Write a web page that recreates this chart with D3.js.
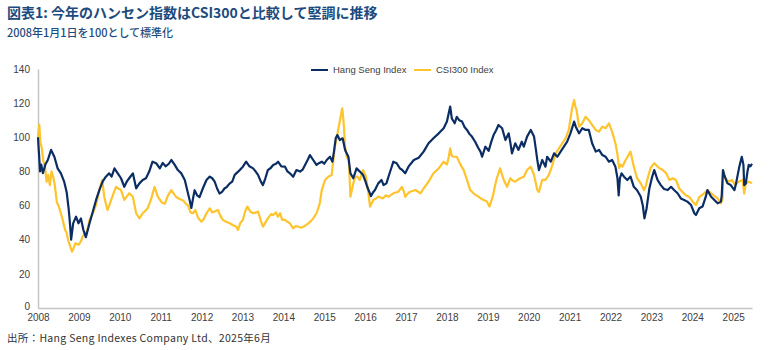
<!DOCTYPE html>
<html>
<head>
<meta charset="utf-8">
<script src="https://cdn.jsdelivr.net/npm/d3@7"></script>
<style>
  body { margin: 0; background: #fff; }
  svg text { font-family: "Liberation Sans", "Noto Sans CJK JP", sans-serif; }
  .cjk { font-family: "Noto Sans CJK JP", "Liberation Sans", sans-serif !important; }
</style>
</head>
<body>
<div id="chart"></div>
<script>
// Tick values / labels
const yearTicks = d3.range(2008, 2026);
const valueTicks = [0, 20, 40, 60, 80, 100, 120, 140];
const seriesNames = ["Hang Seng Index", "CSI300 Index"];

// Series: [decimal year, index (2008/1/1 = 100)]
const hangSeng = [
  [2008.00,100],[2008.02,92],[2008.05,80],[2008.08,84],[2008.12,79],[2008.18,84],[2008.24,86.7],
  [2008.32,92.6],[2008.40,88.6],[2008.48,81.8],[2008.56,78.9],[2008.64,74],[2008.70,68],[2008.75,58],
  [2008.78,50],[2008.81,40],[2008.86,49.6],[2008.93,53.5],[2008.99,49.6],[2009.05,52.5],[2009.11,45.7],
  [2009.17,41.5],[2009.22,46],[2009.26,49.6],[2009.34,56.4],[2009.42,63.3],[2009.50,69.1],[2009.58,74],
  [2009.66,76.9],[2009.74,78.9],[2009.80,77],[2009.87,81.8],[2009.95,78.9],[2010.03,76],[2010.11,71],
  [2010.17,74],[2010.23,76],[2010.32,78.9],[2010.40,70.1],[2010.48,73],[2010.56,75],[2010.64,76],
  [2010.72,79.9],[2010.80,85.7],[2010.89,84.8],[2010.98,81.8],[2011.05,85],[2011.12,83],[2011.20,84.5],
  [2011.26,86.7],[2011.34,84],[2011.42,80.8],[2011.50,79],[2011.59,75],[2011.66,68],[2011.71,63],
  [2011.75,58.6],[2011.79,64],[2011.83,69],[2011.89,66],[2011.95,65],[2012.03,70],[2012.12,75],
  [2012.20,77],[2012.26,76],[2012.32,74],[2012.38,70],[2012.44,67],[2012.50,68],[2012.56,70],
  [2012.62,71],[2012.69,73],[2012.75,74],[2012.81,78],[2012.90,80],[2013.01,82.8],[2013.09,85.7],
  [2013.17,83],[2013.26,81.8],[2013.32,80],[2013.38,78],[2013.45,74],[2013.50,72],[2013.56,76],
  [2013.62,80.8],[2013.69,82],[2013.75,83.8],[2013.82,84.5],[2013.87,85.7],[2013.95,83],[2014.04,82.8],
  [2014.10,80],[2014.16,78.9],[2014.24,76.9],[2014.32,80.8],[2014.41,79.9],[2014.47,81],[2014.53,83.8],
  [2014.60,87],[2014.65,89.6],[2014.73,86.7],[2014.81,83.8],[2014.88,85],[2014.94,85.7],[2015.00,84.5],
  [2015.06,86.7],[2015.14,88.6],[2015.20,85.7],[2015.24,92],[2015.28,99.4],[2015.32,101.3],[2015.38,98.4],
  [2015.45,99.4],[2015.51,92.6],[2015.56,90],[2015.59,88.6],[2015.64,78.9],[2015.71,76],[2015.79,81.8],
  [2015.87,79.9],[2015.95,77.9],[2016.01,74],[2016.05,71],[2016.10,68.1],[2016.14,65.5],[2016.20,68],
  [2016.24,69.1],[2016.32,73],[2016.40,75],[2016.45,72],[2016.52,73],[2016.57,76.9],[2016.64,82],
  [2016.69,85.7],[2016.77,84.8],[2016.85,81.8],[2016.90,81],[2016.98,78.9],[2017.06,82.8],[2017.19,86.7],
  [2017.31,88],[2017.43,91.6],[2017.55,96.5],[2017.67,99.4],[2017.80,102.3],[2017.92,105.3],[2018.00,109.2],
  [2018.08,118],[2018.12,111],[2018.19,108.2],[2018.24,112],[2018.30,110],[2018.37,109.2],[2018.43,106],
  [2018.49,104.3],[2018.55,102],[2018.61,100.4],[2018.69,97.4],[2018.76,94],[2018.82,91.6],[2018.86,88.6],
  [2018.94,94.5],[2019.02,92],[2019.08,97],[2019.14,101.3],[2019.20,104],[2019.26,107.2],[2019.35,105.3],
  [2019.43,98.4],[2019.51,102.3],[2019.55,97],[2019.59,90.6],[2019.67,96.5],[2019.75,92.6],[2019.83,97.4],
  [2019.88,94.5],[2019.96,100.4],[2020.05,104.3],[2020.13,100.4],[2020.18,92],[2020.21,86.7],[2020.25,80.8],
  [2020.33,86.7],[2020.41,82.8],[2020.45,88.6],[2020.54,85.7],[2020.62,90.6],[2020.70,88.6],[2020.78,91.6],
  [2020.86,94.5],[2020.94,97.4],[2021.02,102.3],[2021.11,109.2],[2021.15,106.2],[2021.23,102.3],[2021.31,105.3],
  [2021.39,104.3],[2021.47,104.3],[2021.55,96.5],[2021.64,91.6],[2021.72,92.6],[2021.80,89.6],[2021.88,88.6],
  [2021.96,85.7],[2022.04,86.7],[2022.12,82.8],[2022.17,76],[2022.20,66],[2022.23,76],[2022.27,78.9],
  [2022.33,76.9],[2022.41,75],[2022.49,77],[2022.57,71],[2022.65,69],[2022.74,65.2],[2022.79,60],
  [2022.83,52.5],[2022.88,58],[2022.95,70],[2023.02,77],[2023.07,80.8],[2023.15,75],[2023.23,72],
  [2023.31,69.7],[2023.40,69.1],[2023.48,71],[2023.56,69],[2023.64,67.2],[2023.72,64.2],[2023.80,63.3],
  [2023.88,62.3],[2023.97,60.3],[2024.05,55.5],[2024.09,54.5],[2024.17,58.4],[2024.25,59.4],[2024.33,65.2],
  [2024.37,69.1],[2024.46,65.2],[2024.54,63.3],[2024.62,61.3],[2024.70,62.3],[2024.72,66],[2024.75,80.8],
  [2024.78,78],[2024.86,73],[2024.94,72],[2025.03,69],[2025.07,73],[2025.15,82.8],[2025.21,88.6],
  [2025.25,84],[2025.27,72],[2025.31,73],[2025.35,80],[2025.38,83.8],[2025.42,83],[2025.46,84.5]
];

const csi300 = [
  [2008.00,100],[2008.03,107.5],[2008.06,97],[2008.09,94],[2008.13,86],[2008.17,83],[2008.21,74],
  [2008.25,78],[2008.29,72],[2008.33,80],[2008.37,77],[2008.41,72],[2008.46,62],[2008.50,60],
  [2008.54,57],[2008.60,52],[2008.66,46],[2008.70,44],[2008.74,39.5],[2008.79,36],[2008.83,33],
  [2008.87,35],[2008.91,37.9],[2008.99,37],[2009.05,39],[2009.09,41.8],[2009.15,43.7],[2009.20,45],
  [2009.26,51.6],[2009.34,55.5],[2009.42,60.3],[2009.50,69.1],[2009.57,75],[2009.62,65.2],[2009.67,60],
  [2009.70,57.4],[2009.79,63.3],[2009.86,68],[2009.91,71],[2009.96,70],[2010.03,69.1],[2010.11,63.3],
  [2010.23,67.2],[2010.32,65.2],[2010.40,55.5],[2010.48,52.5],[2010.56,55.5],[2010.63,57],[2010.68,58.4],
  [2010.76,63.3],[2010.85,71],[2010.93,65.2],[2011.02,62],[2011.10,61],[2011.18,66],[2011.26,69],
  [2011.32,67],[2011.38,65],[2011.45,64],[2011.55,63],[2011.62,61],[2011.67,60],[2011.73,56],
  [2011.79,55.5],[2011.85,57.4],[2011.91,53],[2011.99,50.6],[2012.05,52],[2012.12,55.5],[2012.20,58.4],
  [2012.26,56],[2012.32,56.5],[2012.40,57.4],[2012.46,54],[2012.52,51.6],[2012.60,50.5],[2012.69,49.6],
  [2012.77,48.5],[2012.85,47.6],[2012.89,45.7],[2012.95,50],[2013.01,51.6],[2013.07,57],[2013.12,59.4],
  [2013.19,56.5],[2013.26,55.5],[2013.33,56],[2013.38,56.5],[2013.45,51],[2013.50,47.6],[2013.56,50],
  [2013.62,52.5],[2013.70,55],[2013.75,54.5],[2013.82,56],[2013.87,53.5],[2013.92,55.5],[2013.97,51.6],
  [2014.04,51.6],[2014.10,50.5],[2014.16,49.6],[2014.24,46.7],[2014.30,48],[2014.37,47.6],[2014.43,47],
  [2014.49,47.6],[2014.55,48.5],[2014.61,49.6],[2014.68,51],[2014.73,52.5],[2014.81,55.5],[2014.86,59],
  [2014.89,61.3],[2014.94,69.1],[2015.02,75],[2015.10,76.9],[2015.18,77.9],[2015.22,86],[2015.26,94.5],
  [2015.34,104.3],[2015.40,112],[2015.44,117],[2015.47,110],[2015.51,94.5],[2015.55,88.6],[2015.60,86.7],
  [2015.64,65.2],[2015.71,73],[2015.76,76.9],[2015.81,76.9],[2015.87,75],[2015.95,80.8],[2016.02,76.9],
  [2016.08,67.2],[2016.12,59.4],[2016.20,63.3],[2016.26,64],[2016.32,65.2],[2016.44,64.2],[2016.50,66],
  [2016.57,65.2],[2016.69,67.2],[2016.81,68.1],[2016.90,71],[2016.95,68],[2016.98,65.2],[2017.04,67],
  [2017.10,68.1],[2017.23,69.1],[2017.35,67.2],[2017.43,70],[2017.55,74],[2017.67,78.9],[2017.80,81.8],
  [2017.92,85.7],[2018.00,84],[2018.04,88],[2018.08,93.5],[2018.12,89],[2018.16,88.6],[2018.24,88.6],
  [2018.33,84],[2018.41,80.8],[2018.49,75],[2018.57,69.1],[2018.65,67.2],[2018.72,66],[2018.77,65.2],
  [2018.84,64],[2018.90,63.3],[2018.98,62.3],[2019.04,59.4],[2019.12,65.2],[2019.18,72],[2019.22,76],
  [2019.30,81.8],[2019.35,78],[2019.39,75],[2019.47,71],[2019.55,76],[2019.62,74.5],[2019.67,74],
  [2019.73,75],[2019.79,76],[2019.88,76.9],[2019.96,80.8],[2020.05,82.8],[2020.13,77.9],[2020.21,69.1],
  [2020.25,68],[2020.33,75],[2020.41,75],[2020.49,77.9],[2020.54,81],[2020.58,84],[2020.66,90.6],
  [2020.74,93.5],[2020.82,96.5],[2020.90,99.4],[2020.98,104.3],[2021.06,117],[2021.11,121.8],[2021.14,118],
  [2021.17,116],[2021.23,106.2],[2021.31,108.2],[2021.39,112],[2021.47,110],[2021.55,107.2],[2021.64,104.3],
  [2021.72,103.3],[2021.80,106.2],[2021.88,105.3],[2021.96,108.2],[2022.04,103.3],[2022.12,96.5],[2022.17,90],
  [2022.21,82],[2022.25,84],[2022.29,82.8],[2022.37,86.7],[2022.49,91.6],[2022.57,82.8],[2022.65,76],
  [2022.74,73],[2022.82,69],[2022.87,72],[2022.92,77],[2022.98,82],[2023.07,84.8],[2023.19,82],
  [2023.27,81],[2023.36,79],[2023.44,75],[2023.52,76],[2023.60,75],[2023.68,70],[2023.76,68],
  [2023.84,66],[2023.93,65],[2024.01,62.3],[2024.09,60.3],[2024.17,65],[2024.29,67.2],[2024.37,69],
  [2024.46,67.2],[2024.54,65.6],[2024.62,64.2],[2024.70,61.3],[2024.74,64],[2024.76,80],[2024.81,76],
  [2024.89,74],[2024.97,75],[2025.05,72],[2025.13,74],[2025.23,75],[2025.27,67],[2025.31,73],
  [2025.39,74],[2025.46,73]
];

const colors = { hsi: "#0b2d64", csi: "#fec42d", title: "#1c4b7e", text: "#404040", axis: "#c4c4c4" };

const width = 771, height = 350;

const svg = d3.select("#chart").append("svg")
  .attr("width", width)
  .attr("height", height);

// Scales
const x = d3.scaleLinear().domain([2008, 2025.46]).range([38, 752]);
const y = d3.scaleLinear().domain([0, 140]).range([308, 69]);

// Title block
svg.append("text")
  .attr("class", "cjk")
  .attr("x", 7).attr("y", 18)
  .attr("fill", colors.title)
  .style("font-size", "14px")
  .style("font-weight", "bold")
  .text("図表1: 今年のハンセン指数はCSI300と比較して堅調に推移");

svg.append("text")
  .attr("class", "cjk")
  .attr("x", 7).attr("y", 37)
  .attr("fill", colors.title)
  .style("font-size", "11px")
  .style("font-weight", "500")
  .text("2008年1月1日を100として標準化");

// Axes
const yAxis = svg.append("g")
  .attr("transform", `translate(${x.range()[0]},0)`)
  .call(d3.axisLeft(y).tickValues(valueTicks).tickSize(0).tickPadding(8));

const xAxis = svg.append("g")
  .attr("transform", `translate(0,${y(0)})`)
  .call(d3.axisBottom(x).tickValues(yearTicks).tickFormat(d3.format("d")).tickSize(0).tickPadding(6));

[yAxis, xAxis].forEach(g => {
  g.select(".domain").attr("stroke", colors.axis).attr("stroke-width", 1.5);
  g.selectAll("text").attr("fill", colors.text).style("font-size", "10px");
});
// the "0" sits a touch above the baseline so it clears the year labels
yAxis.selectAll(".tick text").filter(d => d === 0).attr("dy", "0.1em");

// Lines
const line = d3.line()
  .x(d => x(d[0]))
  .y(d => y(d[1]));

svg.append("path")
  .datum(csi300)
  .attr("fill", "none")
  .attr("stroke", colors.csi)
  .attr("stroke-width", 2.2)
  .attr("stroke-linejoin", "round")
  .attr("d", line);

svg.append("path")
  .datum(hangSeng)
  .attr("fill", "none")
  .attr("stroke", colors.hsi)
  .attr("stroke-width", 2.2)
  .attr("stroke-linejoin", "round")
  .attr("d", line);

// Legend
const legendX = [311, 414];
const legend = svg.selectAll(".legend")
  .data(seriesNames)
  .enter()
  .append("g")
  .attr("class", "legend")
  .attr("transform", (d, i) => `translate(${legendX[i]},70)`);

legend.append("line")
  .attr("x1", 0).attr("x2", 17)
  .attr("stroke", (d, i) => i === 0 ? colors.hsi : colors.csi)
  .attr("stroke-width", 2);

legend.append("text")
  .attr("x", 22).attr("dy", "0.35em")
  .attr("fill", colors.text)
  .style("font-size", "9.5px")
  .text(d => d);

// Source
svg.append("text")
  .attr("class", "cjk")
  .attr("x", 7).attr("y", 342)
  .attr("fill", "#333")
  .style("font-size", "10.5px")
  .style("letter-spacing", "0.3px")
  .text("出所：Hang Seng Indexes Company Ltd、2025年6月");
</script>
</body>
</html>
